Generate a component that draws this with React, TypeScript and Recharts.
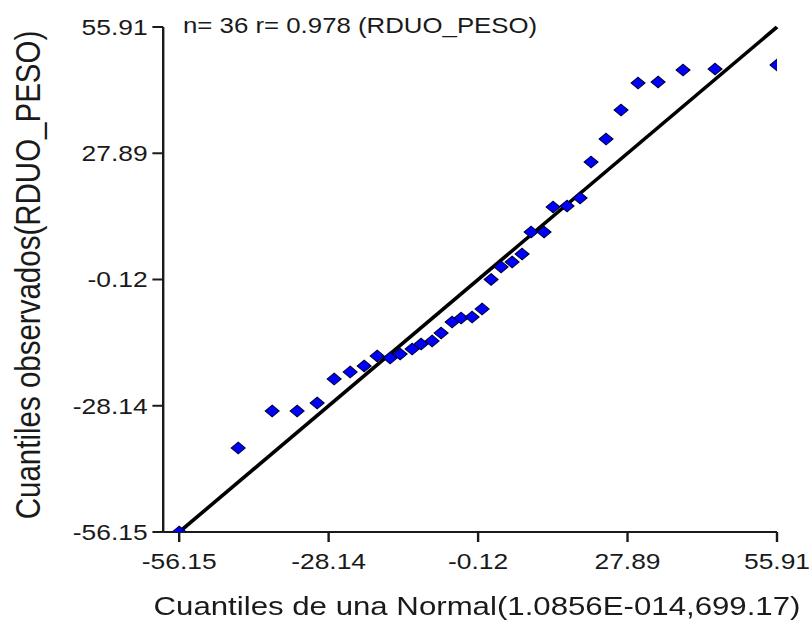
import { ScatterChart, Scatter, XAxis, YAxis, ReferenceLine } from 'recharts';

// Q-Q plot of RDUO_PESO residuals against a fitted normal
const normalQuantiles = [
  -56.15, -45.09, -38.72, -34.04, -30.29, -27.1, -24.1, -21.48, -19.04, -16.61, -14.73, -12.48,
  -10.8, -8.74, -7.05, -4.99, -3.3, -1.24, 0.63, 2.32, 4.19, 6.26, 8.13, 9.82,
  12.25, 13.94, 16.56, 19.0, 21.06, 23.87, 26.68, 29.87, 33.62, 38.3, 44.3, 55.91,
];
const observedQuantiles = [
  -56.15, -37.51, -29.3, -29.3, -27.53, -22.2, -20.65, -19.32, -17.1, -17.54, -16.66, -15.55,
  -14.44, -13.77, -12.0, -9.56, -8.67, -8.45, -6.67, -0.1, 2.65, 3.76, 5.53, 10.41,
  10.41, 15.96, 16.18, 17.96, 25.94, 31.05, 37.48, 43.47, 43.7, 46.36, 46.58, 47.47,
];
const axisTicks = [-56.15, -28.14, -0.12, 27.89, 55.91];
const lineEnds = [-56.15, 55.91];

const points = normalQuantiles.map((x, i) => ({ x, y: observedQuantiles[i] }));

// the original output is stretched horizontally, so draw narrower and scale x
const STRETCH = 1.2;
const W = 677;
const H = 623;
const font = '"Liberation Sans", Arial, sans-serif';
const ink = '#1a1a1a';

const Diamond = (props: any) => {
  const { cx, cy } = props;
  const r = 5.8;
  return (
    <polygon
      points={`${cx},${cy - r} ${cx + r},${cy} ${cx},${cy + r} ${cx - r},${cy}`}
      fill="#0000ff"
      stroke="#000033"
      strokeWidth={1}
    />
  );
};

export default function App() {
  const tickStyle = { fill: ink, fontSize: 22, fontFamily: font };
  return (
    <div
      style={{
        position: 'absolute',
        left: 0,
        top: 0,
        width: W,
        height: H,
        background: '#fff',
        transform: `scaleX(${STRETCH})`,
        transformOrigin: '0 0',
      }}
    >
      <ScatterChart width={W} height={H} margin={{ top: 27, right: 29.5, bottom: 31, left: 0 }}>
        <XAxis
          type="number"
          dataKey="x"
          domain={[-59.15, 55.91]}
          ticks={axisTicks}
          tickFormatter={(v: number) => v.toFixed(2)}
          height={60}
          tickSize={10}
          tickMargin={11}
          tick={tickStyle}
          axisLine={{ stroke: ink, strokeWidth: 2 }}
          tickLine={{ stroke: ink, strokeWidth: 2 }}
          allowDataOverflow
        />
        <YAxis
          type="number"
          dataKey="y"
          domain={[-56.15, 55.91]}
          ticks={axisTicks}
          tickFormatter={(v: number) => v.toFixed(2)}
          width={136}
          tickSize={9}
          tickMargin={4}
          tick={tickStyle}
          axisLine={{ stroke: ink, strokeWidth: 2 }}
          tickLine={{ stroke: ink, strokeWidth: 2 }}
          allowDataOverflow
        />
        <ReferenceLine
          segment={[
            { x: lineEnds[0], y: lineEnds[0] },
            { x: lineEnds[1], y: lineEnds[1] },
          ]}
          stroke="#000"
          strokeWidth={3.3}
          ifOverflow="visible"
        />
        <Scatter data={points} shape={Diamond} isAnimationActive={false} />
      </ScatterChart>
      <div
        style={{
          position: 'absolute',
          left: 152.5,
          top: 16,
          fontFamily: font,
          fontSize: 21.5,
          lineHeight: 1,
          color: ink,
          whiteSpace: 'nowrap',
        }}
      >
        n= 36 r= 0.978 (RDUO_PESO)
      </div>
      <div
        style={{
          position: 'absolute',
          left: 97.5,
          width: 600,
          top: 593,
          textAlign: 'center',
          fontFamily: font,
          fontSize: 26,
          lineHeight: 1,
          color: ink,
          whiteSpace: 'nowrap',
        }}
      >
        Cuantiles de una Normal(1.0856E-014,699.17)
      </div>
      <div
        style={{
          position: 'absolute',
          left: 23,
          top: 275,
          transform: 'translate(-50%, -50%) rotate(-90deg)',
          fontFamily: font,
          fontSize: 29.5,
          lineHeight: 1,
          color: ink,
          whiteSpace: 'nowrap',
        }}
      >
        Cuantiles observados(RDUO_PESO)
      </div>
    </div>
  );
}
